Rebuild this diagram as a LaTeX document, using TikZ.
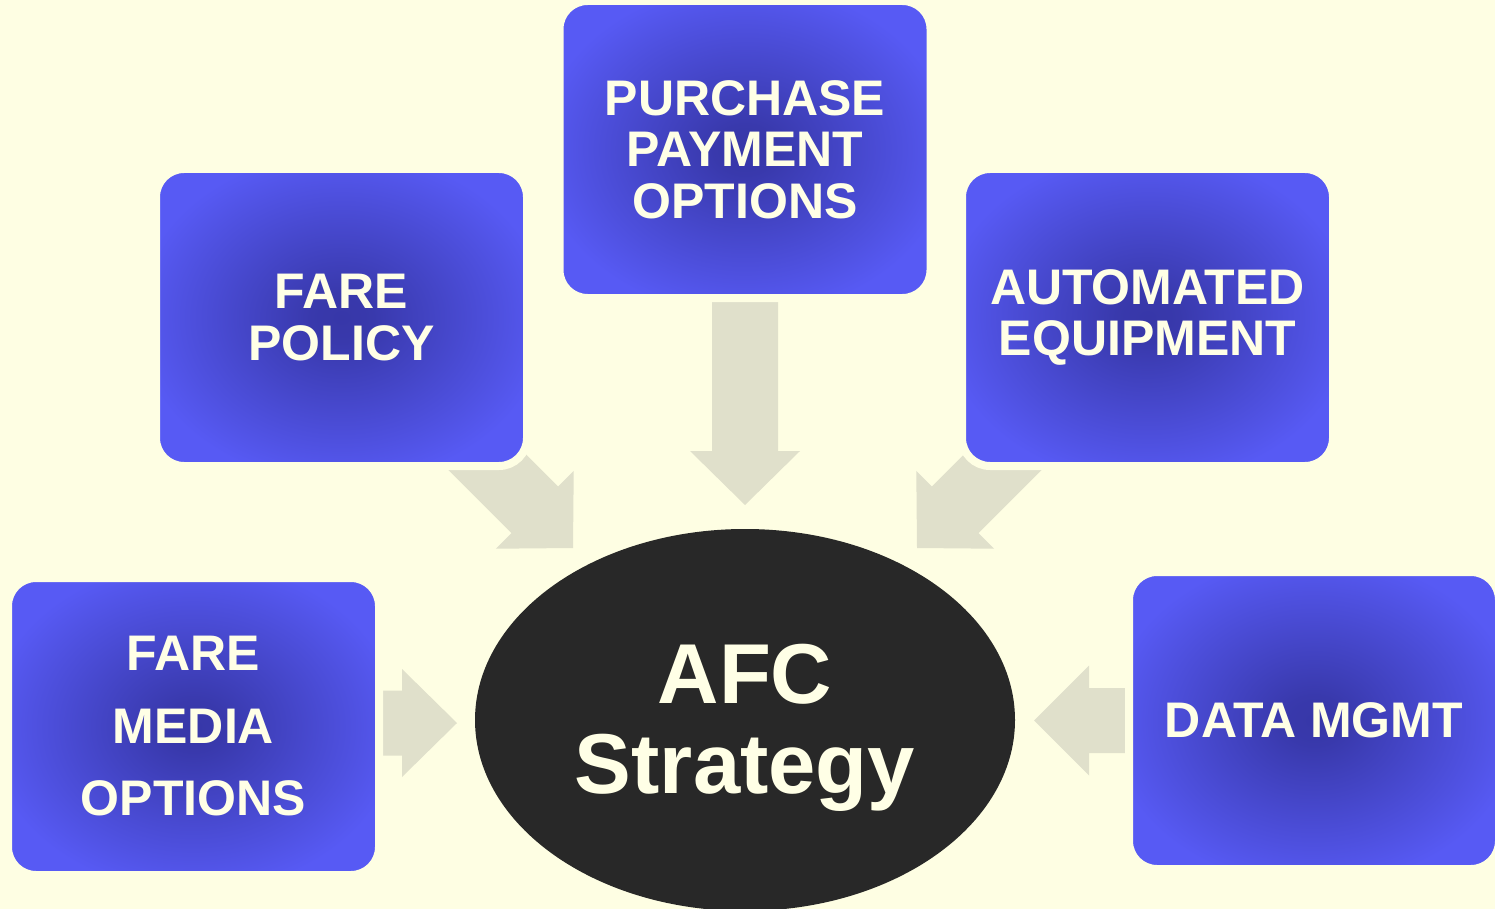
\documentclass[tikz,border=0pt]{standalone}
\usepackage{fontspec}
\setmainfont{Liberation Sans}
\usetikzlibrary{shapes.geometric}
\definecolor{bg}{HTML}{FEFEE3}
\definecolor{boxout}{HTML}{575AF4}
\definecolor{boxin}{HTML}{3737A8}
\definecolor{arrowc}{HTML}{E0E0CB}
\definecolor{ovalc}{HTML}{282828}
\definecolor{txt}{HTML}{FFFFE6}
\pgfdeclareradialshading{boxshade}{\pgfpoint{0bp}{0bp}}{color(0bp)=(boxin); color(4bp)=(boxin!95!boxout); color(28bp)=(boxout); color(50bp)=(boxout)}
\tikzset{
  topicbox/.style={rounded corners=28pt, minimum width=371pt, minimum height=297pt,
    inner sep=0pt, draw=bg, line width=8pt, shade, shading=boxshade, text=txt, align=center,
    font=\bfseries\fontsize{50}{51.5}\selectfont},
  hubnode/.style={ellipse, fill=ovalc, minimum width=540pt, minimum height=382pt,
    inner sep=0pt},
  hubtext/.style={text=txt, align=center, inner sep=0pt,
    font=\bfseries\fontsize{85}{90}\selectfont},
  blockarrow/.style={fill=arrowc}
}
% tip point, canvas angle, total length, head length, head half width, shaft half width
\newcommand{\myblockarrow}[6]{%
  \fill[blockarrow, shift={#1}, rotate=#2]
    (0,0) -- (-#4,#5) -- (-#4,#6) -- (-#3,#6) -- (-#3,-#6) -- (-#4,-#6) -- (-#4,-#5) -- cycle;}
\begin{document}
\begin{tikzpicture}[x=1pt,y=-1pt]
\fill[bg] (0,0) rectangle (1495,909);
\useasboundingbox (0,0) rectangle (1495,909);
% arrows (drawn below the boxes)
\coordinate (tipA) at (745,505);
\coordinate (tipB) at (573,548);
\coordinate (tipC) at (917,548);
\coordinate (tipD) at (457,723);
\coordinate (tipE) at (1034,720.5);
\myblockarrow{(tipA)}{-90}{204}{54}{55}{33}
\myblockarrow{(tipB)}{-45}{150}{54}{55}{33}
\myblockarrow{(tipC)}{-135}{150}{54}{55}{33}
\myblockarrow{(tipD)}{0}{76}{55}{54}{32.5}
\myblockarrow{(tipE)}{180}{94}{55}{55}{32.5}
% boxes
\node[topicbox] (policy) at (341.5,317.5) {FARE\\POLICY};
\node[topicbox] (purchase) at (745,149.5) {PURCHASE\\PAYMENT\\OPTIONS};
\node[topicbox] (equip) at (1147.5,317.5) {AUTOMATED\\EQUIPMENT};
\node[topicbox, font=\bfseries\fontsize{50}{72.5}\selectfont] (media) at (193.5,726.5) {FARE\\MEDIA\\OPTIONS};
\node[topicbox, minimum width=370pt] (data) at (1314,720.5) {DATA MGMT};
% hub
\node[hubnode] (afc) at (745,720) {};
\node[hubtext] (afctext) at ([yshift=-8pt]afc.center) {AFC\\Strategy};
\end{tikzpicture}
\end{document}
